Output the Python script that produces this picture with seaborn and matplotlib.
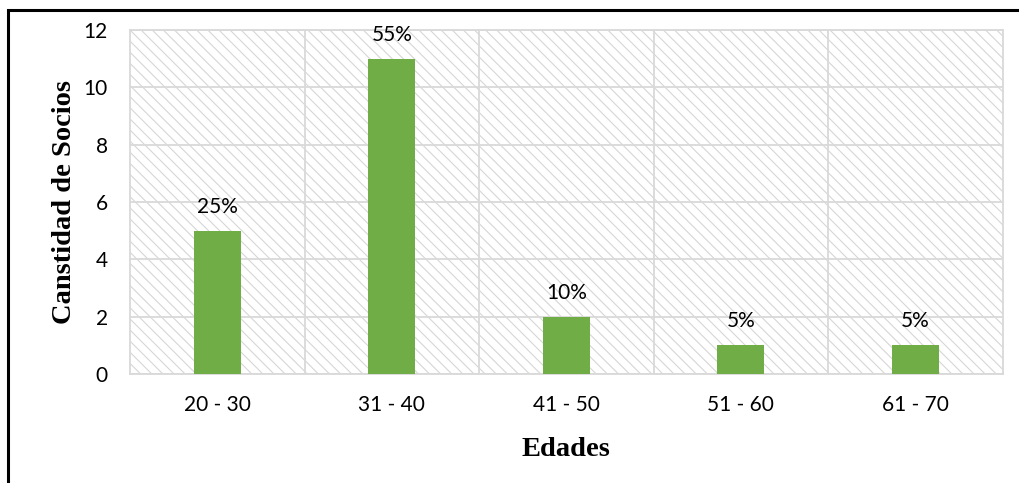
import matplotlib
matplotlib.use("Agg")
import matplotlib.pyplot as plt
import seaborn as sns
import pandas as pd
from matplotlib.patches import Rectangle

categories = ["20 - 30", "31 - 40", "41 - 50", "51 - 60", "61 - 70"]
values = [5, 11, 2, 1, 1]
percent_labels = ["25%", "55%", "10%", "5%", "5%"]

sns.set_theme(style="white")
plt.rcParams['font.family'] = ['Lato', 'DejaVu Sans']
plt.rcParams['hatch.linewidth'] = 0.8
plt.rcParams['hatch.color'] = '#d6d6d6'
plt.rcParams['text.color'] = 'black'
plt.rcParams['axes.labelcolor'] = 'black'

df = pd.DataFrame({"Edades": categories, "Socios": values})

fig = plt.figure(figsize=(10.19, 4.83), dpi=100)
ax = fig.add_axes([0.1276, 0.2257, 0.8564, 0.7123])

# hatched plot background
ax.add_patch(Rectangle((0, 0), 1, 1, transform=ax.transAxes, facecolor='white',
                       edgecolor='#d6d6d6', hatch='\\' * 3, linewidth=0, zorder=0))

sns.barplot(data=df, x="Edades", y="Socios", color="#70ad47", saturation=1,
            width=0.27, ax=ax, zorder=3, edgecolor='none', linewidth=0)

ax.set_ylim(0, 12)
ax.set_yticks(range(0, 13, 2))
ax.set_xlim(-0.5, len(categories) - 0.5)
ax.set_xticks([i - 0.5 for i in range(1, len(categories))], minor=True)
ax.grid(True, axis='y', which='major', color='#d9d9d9', linewidth=1.3, zorder=1)
ax.grid(True, axis='x', which='minor', color='#d9d9d9', linewidth=1.3, zorder=1)
ax.grid(False, axis='x', which='major')
ax.set_axisbelow(True)
ax.tick_params(axis='both', which='both', length=0, labelsize=15, colors='black')
ax.tick_params(axis='y', pad=16)
ax.tick_params(axis='x', pad=15)

for s in ax.spines.values():
    s.set_color('#d9d9d9')
    s.set_linewidth(1.3)

for bar, lab in zip(ax.patches[1:], percent_labels):
    ax.annotate(lab, (bar.get_x() + bar.get_width() / 2, bar.get_height()),
                xytext=(0, 10), textcoords='offset points', ha='center', va='bottom',
                fontsize=15, color='black')

ax.set_xlabel("Edades", fontsize=20.5, fontweight='bold', family='Liberation Serif',
              labelpad=16, color='black')
ax.set_ylabel("Canstidad de Socios", fontsize=20.5, fontweight='bold', family='Liberation Serif',
              labelpad=5, color='black')

# outer frame
fig.patches.append(Rectangle((8 / 1019, -0.02), 1.2, 1 - 10 / 483 + 0.02, transform=fig.transFigure,
                             fill=False, edgecolor='black', linewidth=2.2, zorder=10))

fig.savefig("out.png", dpi=100)
